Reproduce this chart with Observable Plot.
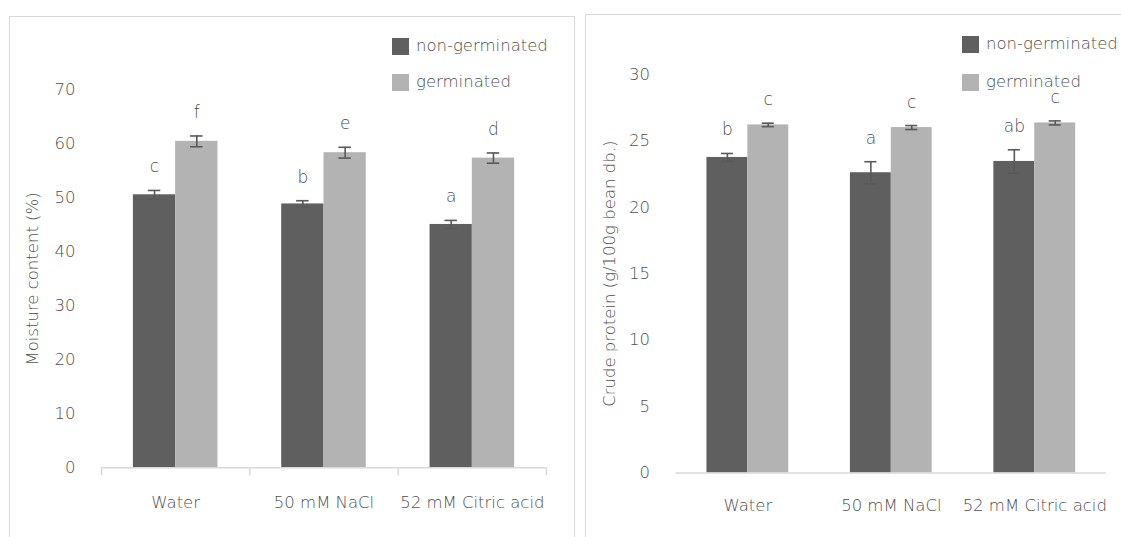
<!DOCTYPE html>
<html>
<head>
<meta charset="utf-8">
<script src="https://cdn.jsdelivr.net/npm/d3@7"></script>
<script src="https://cdn.jsdelivr.net/npm/@observablehq/plot@0.6"></script>
<style>
  html, body { margin: 0; padding: 0; background: #fff; }
  #root { position: relative; width: 1121px; height: 537px; overflow: hidden; background: #fff;
          font-family: "DejaVu Sans", sans-serif; font-weight: 200; color: #4f4f4f; }
  .panel { position: absolute; border: 1px solid #d9d9d9; box-sizing: border-box; }
  .chart { position: absolute; top: 0; }
  .legend-item { position: absolute; display: flex; align-items: center; font-size: 16.5px; line-height: 20px; white-space: nowrap; }
  .legend-item .sw { width: 17px; height: 17px; margin-right: 7px; flex: none; }
</style>
</head>
<body>
<div id="root">
  <div class="panel" style="left:9px; top:16px; width:566px; height:540px;"></div>
  <div class="panel" style="left:585px; top:14px; width:560px; height:540px;"></div>
</div>
<script>
// ---------- data ----------
const categories = ["Water", "50 mM NaCl", "52 mM Citric acid"];
const seriesNames = ["non-germinated", "germinated"];
const seriesColors = ["#5f5f5f", "#b3b3b3"];

const moistureNon = [50.6, 48.9, 45.1];
const moistureNonErr = [0.8, 0.6, 0.75];
const moistureNonLetters = ["c", "b", "a"];
const moistureGerm = [60.5, 58.4, 57.4];
const moistureGermErr = [1.0, 1.0, 0.95];
const moistureGermLetters = ["f", "e", "d"];
const moistureTicks = [0, 10, 20, 30, 40, 50, 60, 70];

const proteinNon = [23.75, 22.6, 23.45];
const proteinNonErr = [0.3, 0.83, 0.88];
const proteinNonLetters = ["b", "a", "ab"];
const proteinGerm = [26.2, 26.0, 26.35];
const proteinGermErr = [0.13, 0.15, 0.15];
const proteinGermLetters = ["c", "c", "c"];
const proteinTicks = [0, 5, 10, 15, 20, 25, 30];

// ---------- helpers ----------
function rows(non, nonErr, nonLet, germ, germErr, germLet) {
  const out = [];
  categories.forEach((c, i) => {
    out.push({cat: c, i, s: 0, value: non[i], err: nonErr[i], letter: nonLet[i]});
    out.push({cat: c, i, s: 1, value: germ[i], err: germErr[i], letter: germLet[i]});
  });
  return out;
}

const BW = 0.285;     // bar width in category units
const CAP = 0.042;    // half cap width in category units
const left = d => d.i + 0.5 - (d.s === 0 ? BW : 0);
const right = d => d.i + 0.5 + (d.s === 1 ? BW : 0);
const center = d => d.i + 0.5 + (d.s === 0 ? -BW / 2 : BW / 2);
const FONT = 16.5;
const TEXT = "#4f4f4f";

function chart({data, ticks, yMax, title, width, height, mL, mR, mT, mB, tickPad, xPad, titleDx, boundaryTicks}) {
  const marks = [
    Plot.rect(data, {x1: left, x2: right, y1: 0, y2: "value", fill: d => seriesColors[d.s]}),
    Plot.ruleX(data, {x: center, y1: d => d.value - d.err, y2: d => d.value + d.err, stroke: "#595959", strokeWidth: 1.6}),
    Plot.ruleY(data, {y: d => d.value + d.err, x1: d => center(d) - CAP, x2: d => center(d) + CAP, stroke: "#595959", strokeWidth: 1.6}),
    Plot.ruleY(data, {y: d => d.value - d.err, x1: d => center(d) - CAP, x2: d => center(d) + CAP, stroke: "#595959", strokeWidth: 1.6}),
    Plot.text(data, {x: center, y: d => d.value + d.err, text: "letter", lineAnchor: "bottom", dy: -18, fontSize: FONT + 0.5, fill: TEXT}),
    Plot.ruleY([0], {stroke: "#d9d9d9", strokeWidth: 1.5}),
    Plot.axisY({ticks, tickSize: 0, tickPadding: tickPad, fontSize: FONT, label: null, fill: TEXT}),
    Plot.axisX({ticks: [0.5, 1.5, 2.5], tickFormat: v => categories[Math.floor(v)], tickSize: 0, tickPadding: xPad, fontSize: FONT, label: null, fill: TEXT}),
    Plot.text([title], {frameAnchor: "left", textAnchor: "middle", rotate: -90, dx: titleDx, fontSize: FONT, fill: TEXT})
  ];
  if (boundaryTicks) {
    marks.push(Plot.axisX({ticks: [0, 1, 2, 3], tickFormat: () => "", tickSize: 8, stroke: "#d9d9d9", strokeWidth: 1.5, label: null}));
  }
  return Plot.plot({
    width, height,
    marginLeft: mL, marginRight: mR, marginTop: mT, marginBottom: mB,
    x: {type: "linear", domain: [0, 3], axis: null},
    y: {type: "linear", domain: [0, yMax], axis: null},
    style: {fontFamily: "DejaVu Sans", fontWeight: 200, background: "transparent", color: TEXT, overflow: "visible"},
    marks
  });
}

const root = document.getElementById("root");

const c1 = chart({
  data: rows(moistureNon, moistureNonErr, moistureNonLetters, moistureGerm, moistureGermErr, moistureGermLetters),
  ticks: moistureTicks, yMax: 70, title: "Moisture content (%)",
  width: 580, height: 537, mL: 101, mR: 34, mT: 89.6, mB: 69.7,
  tickPad: 26, xPad: 28, titleDx: -69, boundaryTicks: true
});
c1.classList.add("chart");
c1.style.left = "0px";
root.appendChild(c1);

const c2 = chart({
  data: rows(proteinNon, proteinNonErr, proteinNonLetters, proteinGerm, proteinGermErr, proteinGermLetters),
  ticks: proteinTicks, yMax: 30, title: "Crude protein (g/100g bean db.)",
  width: 541, height: 537, mL: 95.6, mR: 15, mT: 73.9, mB: 64.4,
  tickPad: 26, xPad: 26, titleDx: -66.6, boundaryTicks: false
});
c2.classList.add("chart");
c2.style.left = "580px";
root.appendChild(c2);

// ---------- legends ----------
function legend(x, ys) {
  seriesNames.forEach((name, k) => {
    const item = document.createElement("div");
    item.className = "legend-item";
    item.style.left = x + "px";
    item.style.top = ys[k] + "px";
    const sw = document.createElement("div");
    sw.className = "sw";
    sw.style.background = seriesColors[k];
    const t = document.createElement("span");
    t.textContent = name;
    item.appendChild(sw);
    item.appendChild(t);
    root.appendChild(item);
  });
}
legend(392, [36, 72]);
legend(962, [34, 72]);
</script>
</body>
</html>
